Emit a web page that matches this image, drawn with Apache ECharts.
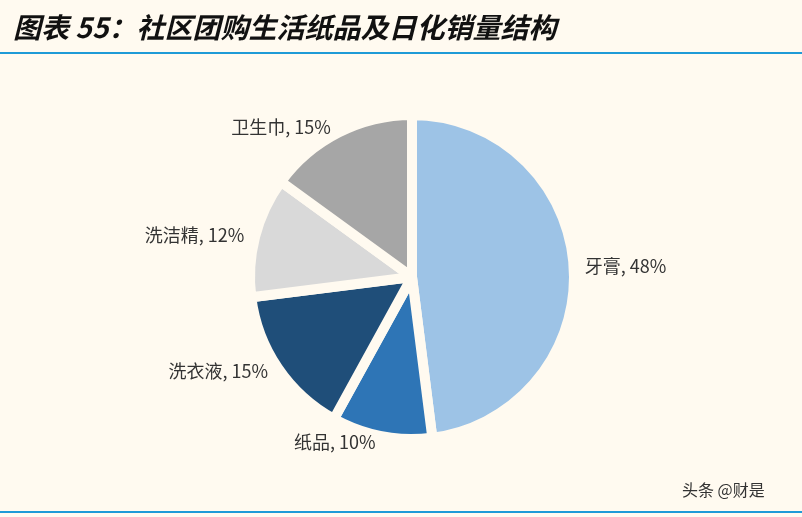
<!DOCTYPE html>
<html><head><meta charset="utf-8">
<script src="https://cdn.jsdelivr.net/npm/echarts@6/dist/echarts.min.js"></script>
<style>html,body{margin:0;padding:0;background:#fffaf0}#c{width:802px;height:517px}</style>
</head><body><div id="c"></div>
<script>
const categories = ['牙膏','纸品','洗衣液','洗洁精','卫生巾'];
const values = [48,10,15,12,15];
const colors = ['#9dc3e6','#2e75b6','#1f4e79','#d9d9d9','#a6a6a6'];
const chart = echarts.init(document.getElementById('c'));
chart.setOption({
  backgroundColor:'#fffaf0',
  animation:false,
  title:{text:'图表 55：社区团购生活纸品及日化销量结构',left:8,top:8,
    textStyle:{fontSize:28,fontStyle:'italic',fontWeight:'bold',color:'#111',fontFamily:'Noto Sans CJK SC'}},
  graphic:[
    {type:'rect',shape:{x:0,y:52,width:802,height:2},style:{fill:'#1f9bd7'}},
    {type:'rect',shape:{x:0,y:511,width:802,height:2},style:{fill:'#1f9bd7'}},
    {type:'text',left:682,top:482,style:{text:'头条 @财是',fontSize:16,fill:'#333',fontFamily:'Noto Sans CJK SC'}}
  ],
  series:[{
    type:'pie',center:[412,277],radius:[0,162],startAngle:90,clockwise:true,
    itemStyle:{borderColor:'#fffaf0',borderWidth:10},
    label:{show:true,formatter:p=>p.name+', '+p.value+'%',fontSize:18,color:'#333',fontFamily:'Noto Sans CJK SC'},
    labelLine:{show:false,length:6,length2:0},
    data:categories.map((n,i)=>({name:n,value:values[i],itemStyle:{color:colors[i]}}))
  }]
});
</script></body></html>
